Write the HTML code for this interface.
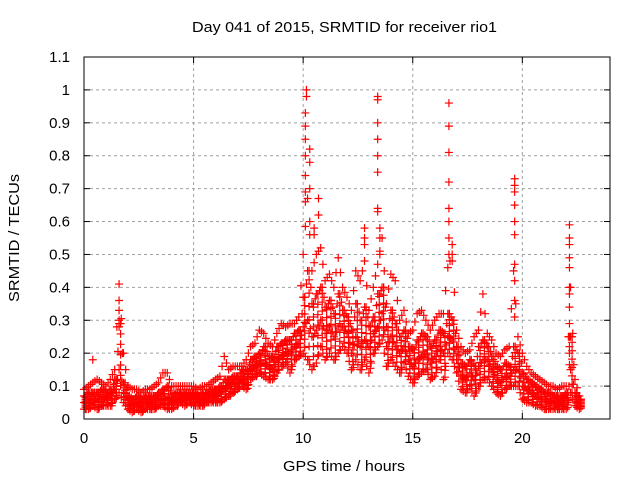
<!DOCTYPE html>
<html><head><meta charset="utf-8"><style>
body{margin:0;background:#fff;}
svg{display:block;font-family:"Liberation Sans",sans-serif;}
</style></head><body>
<svg id="chart" width="640" height="480" viewBox="0 0 640 480">
<rect width="640" height="480" fill="#fff"/>
<g id="grid"></g>
<g id="ticks"></g>
<g id="marks"></g>
<rect x="84" y="57" width="526" height="362" fill="none" stroke="#000" stroke-width="1"/>
<text x="192" y="32" font-size="15" textLength="305" lengthAdjust="spacingAndGlyphs">Day 041 of 2015, SRMTID for receiver rio1</text>
<text x="283" y="471" font-size="15" textLength="122" lengthAdjust="spacingAndGlyphs">GPS time / hours</text>
<text x="0" y="0" font-size="15" textLength="128" lengthAdjust="spacingAndGlyphs" transform="translate(19,302) rotate(-90)">SRMTID / TECUs</text>
</svg>
<script>
const xTicks=[0,5,10,15,20];
const yTicks=[0,0.1,0.2,0.3,0.4,0.5,0.6,0.7,0.8,0.9,1,1.1];
const times=[0,0.2,0.4,0.6,0.8,1,1.2,1.4,1.6,1.8,2,2.2,2.4,2.6,2.8,3,3.2,3.4,3.6,3.8,4,4.2,4.4,4.6,4.8,5,5.2,5.4,5.6,5.8,6,6.2,6.4,6.6,6.8,7,7.2,7.4,7.6,7.8,8,8.2,8.4,8.6,8.8,9,9.2,9.4,9.6,9.8,10,10.2,10.4,10.6,10.8,11,11.2,11.4,11.6,11.8,12,12.2,12.4,12.6,12.8,13,13.2,13.4,13.6,13.8,14,14.2,14.4,14.6,14.8,15,15.2,15.4,15.6,15.8,16,16.2,16.4,16.6,16.8,17,17.2,17.4,17.6,17.8,18,18.2,18.4,18.6,18.8,19,19.2,19.4,19.6,19.8,20,20.2,20.4,20.6,20.8,21,21.2,21.4,21.6,21.8,22,22.2,22.4,22.6];
const lows=[.03,.03,.04,.03,.04,.04,.04,.06,.08,.05,.03,.02,.03,.02,.03,.03,.03,.04,.04,.03,.03,.04,.05,.04,.05,.04,.04,.04,.05,.05,.05,.05,.06,.07,.08,.09,.10,.09,.12,.13,.14,.13,.12,.12,.14,.16,.17,.14,.18,.19,.20,.18,.15,.17,.22,.18,.20,.18,.20,.22,.20,.15,.18,.15,.18,.14,.20,.22,.24,.16,.18,.16,.14,.17,.13,.11,.13,.14,.15,.12,.13,.18,.12,.20,.18,.14,.09,.08,.10,.07,.10,.12,.12,.10,.08,.07,.09,.10,.10,.10,.06,.05,.05,.04,.04,.03,.03,.03,.03,.03,.03,.08,.04,.03];
const midLows=[.05,.05,.06,.06,.06,.06,.07,.09,.15,.08,.05,.04,.05,.04,.05,.05,.05,.06,.06,.06,.05,.06,.07,.06,.07,.06,.06,.06,.07,.07,.07,.08,.09,.10,.11,.11,.13,.12,.15,.16,.17,.17,.16,.15,.18,.19,.20,.20,.22,.23,.28,.30,.25,.27,.30,.26,.28,.25,.28,.28,.26,.20,.25,.22,.24,.22,.26,.28,.32,.22,.25,.22,.20,.22,.18,.16,.18,.19,.20,.17,.19,.22,.20,.25,.24,.18,.13,.12,.14,.12,.16,.18,.18,.15,.12,.11,.13,.13,.15,.15,.10,.09,.08,.07,.06,.06,.05,.05,.05,.05,.05,.15,.06,.04];
const midHighs=[.07,.08,.08,.08,.09,.08,.09,.12,.29,.11,.07,.06,.07,.06,.07,.07,.07,.08,.09,.10,.07,.08,.08,.08,.08,.08,.07,.08,.08,.09,.09,.10,.12,.12,.13,.13,.15,.15,.18,.19,.20,.22,.19,.19,.22,.23,.24,.24,.26,.27,.37,.45,.35,.38,.40,.34,.36,.32,.38,.33,.31,.27,.35,.30,.34,.28,.31,.38,.40,.28,.33,.29,.25,.27,.22,.21,.24,.26,.25,.22,.24,.27,.26,.32,.30,.22,.17,.16,.18,.16,.22,.24,.22,.19,.16,.15,.17,.16,.22,.20,.14,.12,.11,.10,.09,.08,.08,.07,.07,.07,.08,.25,.08,.06];
const highs=[.09,.10,.11,.12,.11,.10,.12,.15,.41,.20,.10,.09,.09,.08,.09,.09,.10,.11,.14,.14,.10,.10,.10,.10,.10,.10,.09,.10,.10,.11,.12,.13,.19,.15,.16,.16,.16,.18,.22,.23,.27,.26,.23,.22,.26,.29,.28,.29,.29,.31,.50,.67,.45,.50,.52,.42,.44,.40,.49,.40,.37,.33,.45,.42,.48,.33,.40,.47,.55,.35,.44,.42,.30,.33,.26,.27,.32,.33,.30,.27,.30,.32,.32,.46,.50,.27,.22,.20,.21,.25,.27,.38,.26,.24,.20,.19,.21,.22,.45,.25,.20,.16,.14,.13,.12,.11,.10,.10,.09,.10,.10,.40,.12,.07];
const spikeTimes=[0.4,1.6,1.6,1.6,1.6,10.1,10.1,10.1,10.1,10.1,10.1,10.1,10.15,10.15,10.3,10.3,10.3,10.3,10.7,10.7,10.5,10.5,12.8,12.8,12.8,13.4,13.4,13.4,13.4,13.4,13.4,13.4,13.4,13.5,13.5,13.5,16.65,16.65,16.65,16.65,16.65,16.65,16.65,16.65,16.8,16.8,19.65,19.65,19.65,19.65,19.65,19.65,19.65,19.65,19.65,19.65,22.15,22.15,22.15,22.15,22.15,22.15,22.15,22.15,22.15,22.15,22.15,22.15];
const spikeValues=[.18,.36,.33,.30,.28,.93,.89,.85,.80,.74,.69,.66,1.0,.98,.82,.78,.70,.60,.67,.62,.58,.56,.58,.55,.53,.98,.97,.90,.85,.80,.75,.64,.63,.58,.55,.50,.96,.89,.81,.72,.64,.60,.55,.50,.53,.48,.73,.71,.69,.65,.60,.56,.47,.42,.36,.31,.59,.55,.53,.49,.46,.40,.38,.34,.29,.25,.22,.20];

const X0=84,X1=610,Y0=419,Y1=57;
const xs=t=>X0+t*(X1-X0)/24;
const ys=v=>Y0-v*(Y0-Y1)/1.1;
const NS="http://www.w3.org/2000/svg";
const grid=document.getElementById('grid'),ticks=document.getElementById('ticks'),marks=document.getElementById('marks');
function mk(tag,attrs,parent){const e=document.createElementNS(NS,tag);for(const k in attrs)e.setAttribute(k,attrs[k]);parent.appendChild(e);return e;}
yTicks.forEach(v=>{
  const y=ys(v);
  if(v>0&&v<1.05){const g=mk('line',{x1:X0,x2:X1,y1:y,y2:y,stroke:'#a0a0a0','stroke-dasharray':'3,3'},grid);
  
  }
  mk('line',{x1:X0,x2:X0+6,y1:y,y2:y,stroke:'#000'},ticks);
  mk('line',{x1:X1,x2:X1-6,y1:y,y2:y,stroke:'#000'},ticks);
  const t=mk('text',{x:70,y:y+5,'font-size':15,'text-anchor':'end'},ticks);
  t.textContent=String(v);
  
  
});
xTicks.forEach(h=>{
  const x=xs(h);
  if(h>0){const g=mk('line',{x1:x,x2:x,y1:Y0,y2:Y1,stroke:'#a0a0a0','stroke-dasharray':'3,3'},grid);
  
  }
  mk('line',{x1:x,x2:x,y1:Y0,y2:Y0-6,stroke:'#000'},ticks);
  mk('line',{x1:x,x2:x,y1:Y1,y2:Y1+6,stroke:'#000'},ticks);
  const t=mk('text',{x:x,y:443,'font-size':15,'text-anchor':'middle'},ticks);
  t.textContent=String(h);
  
  
});
function cross(t,v,col){
  const x=xs(t),y=ys(v);
  const p=mk('path',{d:`M${x-4},${y}h8M${x},${y-4}v8`,stroke:col,'stroke-width':1.2,fill:'none'},marks);
  
  
}
const fracs=[0,0.15,0.3,0.45,0.6,0.75,0.9,1];
times.forEach((t,i)=>{
  const lo=lows[i],m1=midLows[i],m2=midHighs[i],hi=highs[i];
  [lo,m1,m2,hi].forEach(v=>cross(t,v,'#ff0000'));
  const shift=(i%3)*0.05;
  fracs.forEach(f=>{
    const ff=Math.min(1,f+shift);
    cross(t+0.07,lo+(m2-lo)*ff,'#ff0000');
  });
  if(i+1<times.length){
    cross(t+0.13,(m1+midLows[i+1])/2,'#ff0000');
    cross(t+0.1,(hi+highs[i+1])/2,'#ff0000');
    cross(t+0.1,(lo+lows[i+1])/2,'#ff0000');
    cross(t+0.15,(m2+midHighs[i+1])/2,'#ff0000');
  }
});
spikeTimes.forEach((t,i)=>cross(t,spikeValues[i],'#ff0000'));
</script>
</body></html>
